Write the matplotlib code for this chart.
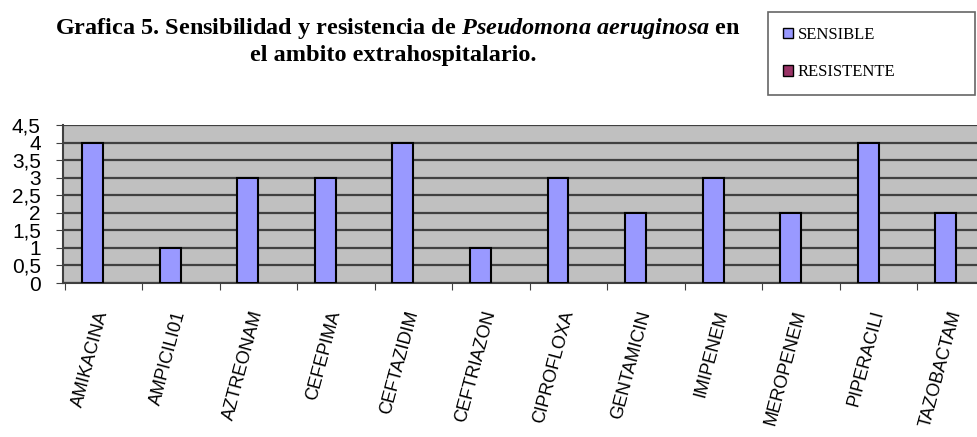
import numpy as np
import matplotlib
matplotlib.use('Agg')
import matplotlib.pyplot as plt
from matplotlib.patches import Patch
from matplotlib.ticker import FixedLocator, FuncFormatter

categories = ['AMIKACINA', 'AMPICILI01', 'AZTREONAM', 'CEFEPIMA', 'CEFTAZIDIM',
              'CEFTRIAZON', 'CIPROFLOXA', 'GENTAMICIN', 'IMIPENEM', 'MEROPENEM',
              'PIPERACILI', 'TAZOBACTAM']
sensible = [4, 1, 3, 3, 4, 1, 3, 2, 3, 2, 4, 2]
resistente = [0, 0, 0, 0, 0, 0, 0, 0, 0, 0, 0, 0]
yticks = [0, 0.5, 1, 1.5, 2, 2.5, 3, 3.5, 4, 4.5]

plt.rcParams['mathtext.fontset'] = 'custom'
plt.rcParams['mathtext.rm'] = 'Liberation Serif:bold'
plt.rcParams['mathtext.it'] = 'Liberation Serif:italic:bold'
plt.rcParams['mathtext.bf'] = 'Liberation Serif:bold'

fig = plt.figure(figsize=(9.77, 4.37), dpi=100)
ax = fig.add_axes([0.0645, 0.3524, 0.9355, 0.3616])
ax.set_facecolor('#c0c0c0')

x = np.arange(len(categories))
w = 0.27
ax.bar(x - w / 2, sensible, w, color='#9999ff', edgecolor='black',
       linewidth=1.5, zorder=3)
ax.bar(x + w / 2, resistente, w, color='#993366', linewidth=0, zorder=3)

ax.set_ylim(0, 4.5)
ax.set_xlim(-0.52, 11.27)
ax.set_yticks(yticks)
ax.yaxis.set_major_formatter(
    FuncFormatter(lambda v, p: ('%g' % v).replace('.', ',')))
ax.grid(True, axis='y', color='#404040', linewidth=1.6, zorder=1)

# tick marks between categories, labels at centres
ax.xaxis.set_major_locator(FixedLocator(np.arange(-0.5, 12, 1.0)))
ax.xaxis.set_major_formatter(plt.NullFormatter())
ax.set_xticks(x, minor=True)
ax.set_xticklabels(categories, minor=True)
ax.tick_params(axis='x', which='major', length=5, color='#404040')
ax.tick_params(axis='x', which='minor', length=0, pad=20)
for lab in ax.get_xticklabels(minor=True):
    lab.set_rotation(75)
    lab.set_ha('right')
    lab.set_va('center')
    lab.set_rotation_mode('anchor')
    lab.set_fontsize(13)
    lab.set_family('Liberation Sans')

ax.tick_params(axis='y', length=5, color='#404040', labelsize=15, pad=11)
for lab in ax.get_yticklabels():
    lab.set_family('Liberation Sans')

for s in ['top', 'right']:
    ax.spines[s].set_visible(False)
ax.spines['left'].set_color('#404040')
ax.spines['bottom'].set_color('#404040')
ax.spines['left'].set_linewidth(1.5)
ax.spines['bottom'].set_linewidth(1.5)

fig.text(0.407, 0.935,
         'Grafica 5. Sensibilidad y resistencia de $\\it{Pseudomona\\ aeruginosa}$ en',
         ha='center', va='center', fontsize=17.5, fontweight='bold',
         family='Liberation Serif')
fig.text(0.403, 0.872, 'el ambito extrahospitalario.', ha='center', va='center',
         fontsize=17.5, fontweight='bold', family='Liberation Serif')

handles = [Patch(facecolor='#9999ff', edgecolor='black', linewidth=1.0),
           Patch(facecolor='#993366', edgecolor='black', linewidth=1.0)]
leg = fig.legend(handles, ['SENSIBLE', 'RESISTENTE'], loc='upper left',
                 bbox_to_anchor=(0.786, 0.973, 0.212, 0), mode='expand',
                 prop={'family': 'Liberation Serif', 'size': 12},
                 frameon=True, fancybox=False, edgecolor='#404040',
                 handlelength=0.6, handleheight=0.6, handletextpad=0.3,
                 labelspacing=1.3, borderpad=0.9, borderaxespad=0)
leg.get_frame().set_linewidth(1.2)

plt.savefig('out.png', dpi=100)
